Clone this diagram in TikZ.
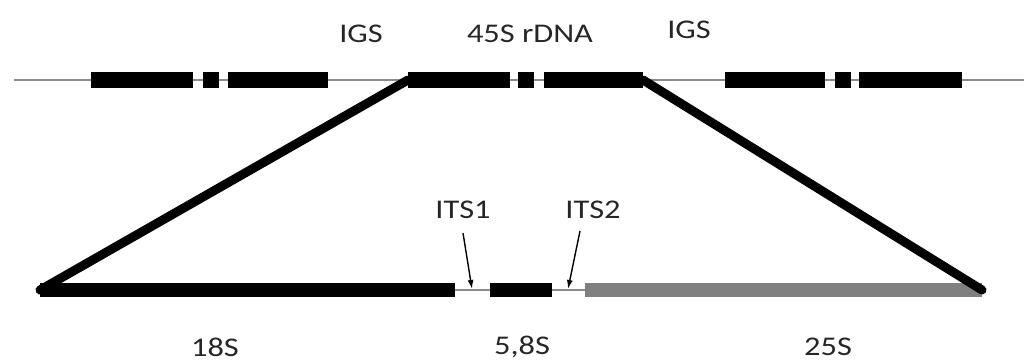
\documentclass[tikz,border=0pt]{standalone}
\usepackage{fontspec}
\setmainfont[FakeStretch=1.2]{Carlito}
\usetikzlibrary{arrows.meta}
\begin{document}
\begin{tikzpicture}[x=1pt,y=-1pt,
  blk/.style={fill=black, draw=none, inner sep=0pt, outer sep=0pt, minimum height=16pt, anchor=west},
  bar/.style={draw=none, inner sep=0pt, outer sep=0pt, minimum height=14pt, anchor=west},
  lbl/.style={font=\fontsize{27}{30}\selectfont, text=black!85, inner sep=0pt},
  thin/.style={draw=black!45, line width=1.2pt},
  diag/.style={draw=black, line width=9pt, line cap=round},
  its/.style={draw=black, line width=1.4pt, -{Latex[length=9pt,width=6pt]}}]
\useasboundingbox (0,0) rectangle (1024,363);
% chromosome line
\coordinate (lstart) at (14,80);
\coordinate (lend) at (1024,80);
\draw[thin] (lstart) -- (lend);
% left IGS unit
\node[blk, minimum width=102pt] (l1) at (91,80) {};
\node[blk, minimum width=16pt] (l2) at (203,80) {};
\node[blk, minimum width=100pt] (l3) at (228,80) {};
% central 45S unit
\node[blk, minimum width=102pt] (c1) at (408,80) {};
\node[blk, minimum width=16pt] (c2) at (518,80) {};
\node[blk, minimum width=99pt] (c3) at (544,80) {};
% right unit
\node[blk, minimum width=100pt] (r1) at (725,80) {};
\node[blk, minimum width=16pt] (r2) at (835,80) {};
\node[blk, minimum width=103pt] (r3) at (859,80) {};
% top labels
\node[lbl] (igs1) at (361,34) {IGS};
\node[lbl] (rdna) at (530,34) {45S rDNA};
\node[lbl] (igs2) at (689,30) {IGS};
% bottom genes
\node[bar, fill=black, minimum width=415pt] (s18) at (40,290) {};
\node[bar, fill=black, minimum width=62pt] (s58) at (490,290) {};
\node[bar, fill=black!50, minimum width=397pt] (s25) at (585,290) {};
\draw[thin] (s18.east) -- (s58.west);
\draw[thin] (s58.east) -- (s25.west);
% diagonals
\draw[diag] (c1.west) -- (s18.west);
\draw[diag] (c3.east) -- (s25.east);
% ITS labels and arrows
\node[lbl] (its1) at (463,210) {ITS1};
\node[lbl] (its2) at (593,210) {ITS2};
\coordinate (t1) at (472,289);
\coordinate (t2) at (568,289);
\draw[its] (its1.south) ++(0,14) -- (t1);
\draw[its] (its2.south) ++(-13,12) -- (t2);
% bottom labels
\node[lbl] (l18) at (215,347) {18S};
\node[lbl] (l58) at (522,347) {5,8S};
\node[lbl] (l25) at (828,347) {25S};
\end{tikzpicture}
\end{document}
